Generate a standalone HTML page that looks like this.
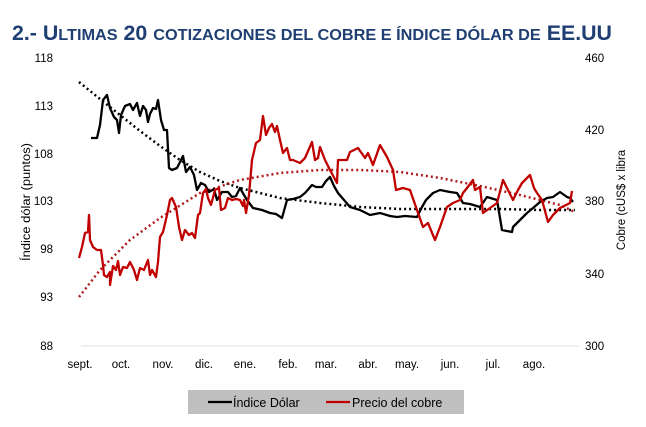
<!DOCTYPE html>
<html><head><meta charset="utf-8"><style>
html,body{margin:0;padding:0;background:#fff;}
svg{display:block;font-family:"Liberation Sans",sans-serif;}
</style></head><body>
<svg width="646" height="427" viewBox="0 0 646 427" xmlns="http://www.w3.org/2000/svg">
<text x="12" y="40" font-size="21" font-weight="bold" fill="#1f3f73" textLength="600" lengthAdjust="spacingAndGlyphs">2.- U<tspan font-size="16">LTIMAS</tspan> 20 <tspan font-size="16">COTIZACIONES DEL COBRE E ÍNDICE DÓLAR DE</tspan> EE.UU</text>
<g font-size="11.5" fill="#000">
<text x="53" y="62" text-anchor="end">118</text>
<text x="53" y="110" text-anchor="end">113</text>
<text x="53" y="158" text-anchor="end">108</text>
<text x="53" y="205" text-anchor="end">103</text>
<text x="53" y="253" text-anchor="end">98</text>
<text x="53" y="301" text-anchor="end">93</text>
<text x="53" y="350" text-anchor="end">88</text>
<text x="585" y="62">460</text>
<text x="585" y="134">420</text>
<text x="585" y="205">380</text>
<text x="585" y="278">340</text>
<text x="585" y="350">300</text>
<g text-anchor="middle">
<text x="80" y="368">sept.</text><text x="121" y="368">oct.</text><text x="163" y="368">nov.</text><text x="204" y="368">dic.</text><text x="245" y="368">ene.</text><text x="288" y="368">feb.</text><text x="326" y="368">mar.</text><text x="368" y="368">abr.</text><text x="407" y="368">may.</text><text x="450" y="368">jun.</text><text x="493" y="368">jul.</text><text x="534" y="368">ago.</text>
</g>
<text transform="translate(30,202) rotate(-90)" text-anchor="middle" textLength="118" lengthAdjust="spacingAndGlyphs">Índice dólar (puntos)</text>
<text transform="translate(625,200) rotate(-90)" text-anchor="middle">Cobre (cUS$ x libra</text>
</g>
<line x1="81" y1="346" x2="579" y2="346" stroke="#e0e0e0" stroke-width="1"/>
<polyline fill="none" stroke="#000" stroke-width="2.5" stroke-dasharray="2,3" points="79,82 100,99 120,115 140,131 160,146 180,160 200,172 220,181 240,188 280,198 320,203 360,207 400,209 450,209 500,209 540,210 575,210"/>
<polyline fill="none" stroke="#b01c1c" stroke-width="2.5" stroke-dasharray="2,3" points="79,297 100,270 130,240 160,218 200,193 240,180 280,173 320,170 360,170 400,172 440,178 480,186 520,195 560,205 575,212"/>
<polyline fill="none" stroke="#000" stroke-width="2.3" stroke-linejoin="round" points="91,138 97,138 100,125 103,100 107,95 110,108 114,117 117,120 119,133 121,115 125,106 130,104 133,110 137,103 140,116 143,106 146,110 148,122 150,114 153,108 156,109 158,100 161,120 164,130 167,130 169,168 172,170 177,168 180,162 183,156 186,172 190,167 194,175 197,190 201,183 205,185 209,192 214,189 217,200 222,192 228,192 232,197 236,196 240,188 244,195 247,200 253,208 262,210 270,213 276,214 282,218 287,200 293,199 300,197 305,193 312,185 316,187 322,187 326,181 330,177 334,186 338,193 344,200 350,207 360,210 370,215 380,213 390,216 397,217 405,216 417,217 422,207 426,200 433,193 440,190 450,192 457,193 463,203 470,204 480,207 487,197 497,200 502,230 512,232 513,227 520,220 527,213 533,208 540,202 547,198 553,197 560,192 567,197 570,198 573,202"/>
<polyline fill="none" stroke="#c00000" stroke-width="2.3" stroke-linejoin="round" points="79,258 82,247 85,233 88,232 89,215 90,240 93,247 97,250 101,250 103,265 104,275 107,277 110,272 110,285 113,266 116,270 118,261 120,275 123,267 127,268 130,262 134,270 137,280 140,268 144,270 148,260 150,275 152,270 156,277 158,262 160,237 163,232 167,215 170,200 172,198 176,207 179,227 182,240 185,230 189,235 192,233 195,238 198,215 200,213 203,193 206,189 208,198 211,205 215,190 219,188 221,210 225,208 228,198 232,200 236,199 240,200 243,206 244,200 246,213 249,195 252,160 256,143 260,140 263,116 266,135 269,128 272,124 275,132 277,126 280,140 283,153 287,148 290,160 293,160 300,163 305,158 312,142 315,160 318,158 320,147 325,160 330,170 337,183 338,160 347,160 350,152 358,148 365,158 368,153 373,165 380,145 387,157 393,170 396,190 403,188 410,190 417,210 423,227 428,223 435,240 440,227 447,207 453,203 460,200 463,193 467,188 473,180 475,190 480,187 483,213 490,208 497,203 503,180 508,190 513,200 518,190 522,183 530,175 534,188 537,193 542,200 548,222 553,215 560,208 566,205 570,203 572,191"/>
<rect x="188" y="390" width="276" height="24" fill="#bfbfbf"/>
<line x1="208" y1="402" x2="232" y2="402" stroke="#000" stroke-width="2.3"/>
<text x="233" y="407" font-size="12.5">Índice Dólar</text>
<line x1="326" y1="402" x2="350" y2="402" stroke="#c00000" stroke-width="2.3"/>
<text x="352" y="407" font-size="12.5">Precio del cobre</text>
</svg>
</body></html>
